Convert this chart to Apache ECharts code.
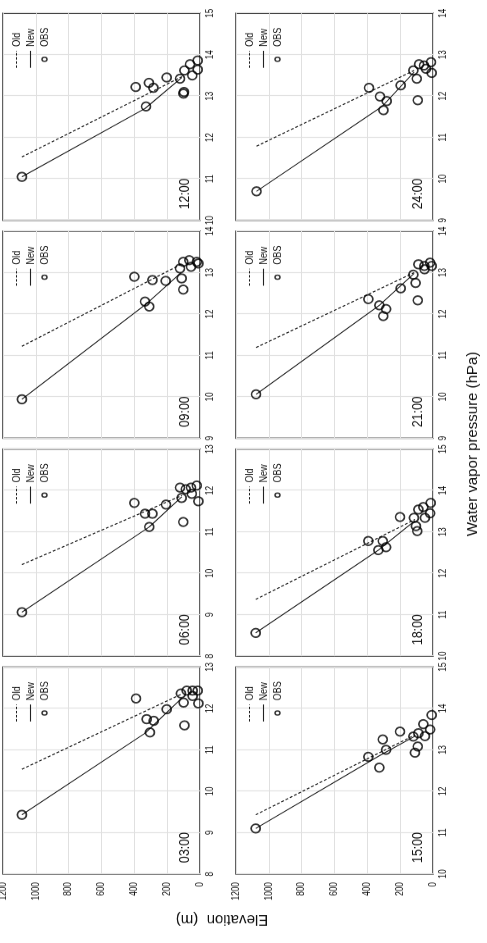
<!DOCTYPE html>
<html>
<head>
<meta charset="utf-8">
<script src="https://cdn.jsdelivr.net/npm/echarts@6/dist/echarts.min.js"></script>
<style>
html,body{margin:0;padding:0;background:#fff;overflow:hidden;width:487px;height:943px;}
#chart{position:absolute;left:0;top:0;height:487px;transform-origin:0 0;background:#fff;}
</style>
</head>
<body>
<div id="chart"></div>
<script>
// ---- data (x = water vapor pressure hPa, y = elevation m) ----
const times = ['03:00','06:00','09:00','12:00','15:00','18:00','21:00','24:00'];
const wvMin = [8, 8, 9, 10, 10, 10, 9, 9];
const wvMax = [13, 13, 14, 15, 15, 15, 14, 14];
const elevMin = 0, elevMax = 1200, elevStep = 200, wvStep = 1;

const obs03 = [[9.43,1085],[12.24,390],[11.74,325],[11.70,282],[11.42,305],[11.98,203],[12.36,116],[12.14,100],[11.59,95],[12.43,81],[12.43,45],[12.30,45],[12.43,14],[12.12,10]];
const new03 = [[9.43,1085],[11.40,335],[12.25,110]];
const old03 = [[10.53,1085],[12.35,110]];

const obs06 = [[9.06,1085],[11.70,400],[11.44,335],[11.44,290],[11.12,309],[11.66,207],[11.24,102],[11.82,112],[12.07,122],[12.03,87],[12.07,55],[12.12,20],[11.92,50],[11.74,10]];
const new06 = [[9.06,1085],[11.12,309],[11.85,110]];
const old06 = [[10.21,1085],[11.88,110]];

const obs09 = [[9.94,1085],[12.90,400],[12.82,290],[12.80,209],[12.30,335],[12.18,309],[13.26,102],[13.30,65],[13.26,20],[13.10,122],[13.14,55],[13.22,10],[12.86,112],[12.59,102]];
const new09 = [[9.94,1085],[12.25,325],[13.00,115]];
const old09 = [[11.22,1085],[13.20,115]];

const obs12 = [[11.05,1085],[13.22,392],[13.32,311],[13.20,284],[12.75,329],[13.45,203],[13.42,122],[13.62,95],[13.77,61],[13.50,47],[13.86,14],[13.64,14],[13.06,101],[13.10,98]];
const new12 = [[11.05,1085],[12.70,335],[13.45,110]];
const old12 = [[11.53,1085],[13.47,110]];

const obs15 = [[11.10,1080],[12.83,394],[12.57,327],[13.25,306],[13.00,286],[13.44,201],[13.32,120],[12.93,110],[13.08,93],[13.40,89],[13.62,59],[13.33,49],[13.49,18],[13.84,8]];
const new15 = [[11.10,1080],[12.85,330],[13.33,110]];
const old15 = [[11.43,1080],[13.36,110]];

const obs18 = [[10.56,1080],[12.78,394],[12.78,306],[12.56,333],[12.63,286],[13.36,201],[13.34,116],[13.14,104],[13.02,96],[13.54,89],[13.60,59],[13.34,49],[13.70,14],[13.45,18]];
const new18 = [[10.56,1080],[12.56,333],[13.27,110]];
const old18 = [[11.37,1080],[13.30,110]];

const obs21 = [[10.06,1078],[12.36,394],[12.21,327],[12.12,286],[11.95,303],[12.62,197],[12.95,120],[12.75,106],[12.33,93],[13.20,89],[13.16,53],[13.08,52],[13.24,18],[13.16,8]];
const new21 = [[10.06,1078],[12.21,327],[12.98,115]];
const old21 = [[11.19,1078],[13.00,115]];

const obs24 = [[9.70,1075],[12.20,390],[11.99,323],[11.88,282],[11.66,302],[12.26,197],[12.62,120],[12.42,99],[11.90,93],[12.77,85],[12.74,55],[12.66,43],[12.82,12],[12.56,8]];
const new24 = [[9.70,1075],[11.75,310],[12.58,115]];
const old24 = [[10.79,1075],[12.62,115]];

const obsAll = [obs03, obs06, obs09, obs12, obs15, obs18, obs21, obs24];
const newAll = [new03, new06, new09, new12, new15, new18, new21, new24];
const oldAll = [old03, old06, old09, old12, old15, old18, old21, old24];

// ---- layout / style ----
// The figure is drawn landscape (943 x 487), horizontally condensed by S, then rotated to portrait.
const S = 0.82;
const FULLW = 943, FULLH = 487;
const CW = FULLW / S;
const FONT = "'Liberation Sans', Arial, sans-serif";
const PW = 207, PH = 197;
const panelX = i => 69 + (i % 4) * 217.9;
const panelY = i => (i < 4 ? 3 : 236);

const el = document.getElementById('chart');
el.style.width = CW + 'px';
el.style.transform = 'translateY(' + FULLW + 'px) rotate(-90deg) scaleX(' + S + ')';

const chart = echarts.init(el, null, {renderer: 'canvas', width: CW, height: FULLH});

const grids = [], xAxes = [], yAxes = [], series = [], legends = [], titles = [];
times.forEach((t, i) => {
  const x = panelX(i) / S, y = panelY(i);
  grids.push({left: x, top: y, width: PW / S, height: PH, show: true, borderColor: '#2e2e2e', borderWidth: 1.6,
    backgroundColor: 'transparent', containLabel: false, outerBoundsMode: 'none'});
  xAxes.push({gridIndex: i, type: 'value', min: wvMin[i], max: wvMax[i], interval: wvStep,
    axisLine: {show: false}, axisTick: {show: false},
    splitLine: {show: true, lineStyle: {color: '#e0e0e0', width: 1.2}},
    axisLabel: {fontSize: 10, fontFamily: FONT, color: '#111', margin: 5, formatter: v => String(v)}});
  yAxes.push({gridIndex: i, type: 'value', min: elevMin, max: elevMax, interval: elevStep,
    axisLine: {show: false}, axisTick: {show: false},
    splitLine: {show: true, lineStyle: {color: '#e0e0e0', width: 1}},
    axisLabel: {show: i % 4 === 0, fontSize: 10, fontFamily: FONT, color: '#111', margin: 10, formatter: v => String(v)}});
  series.push({name: 'Old', type: 'line', xAxisIndex: i, yAxisIndex: i, data: oldAll[i], symbol: 'none', silent: true,
    itemStyle: {color: '#1a1a1a'}, lineStyle: {color: '#1a1a1a', width: 1.2, type: [3, 2]}, z: 2});
  series.push({name: 'New', type: 'line', xAxisIndex: i, yAxisIndex: i, data: newAll[i], symbol: 'none', silent: true,
    itemStyle: {color: '#222'}, lineStyle: {color: '#222', width: 1.1}, z: 2});
  series.push({name: 'OBS', type: 'scatter', xAxisIndex: i, yAxisIndex: i, data: obsAll[i], symbol: 'circle',
    symbolSize: [10.5, 9],
    itemStyle: {color: 'rgba(0,0,0,0)', borderColor: '#000', borderWidth: 1.8}, silent: true, z: 3});
  legends.push({orient: 'vertical', left: (panelX(i) + PW - 55) / S, top: y + 8, itemWidth: 17 / S, itemHeight: 5, itemGap: 3, padding: 0,
    selectedMode: false,
    textStyle: {fontSize: 11, fontFamily: FONT, color: '#111'},
    data: [
      {name: 'Old', itemStyle: {opacity: 0}, lineStyle: {type: [3, 2], color: '#1a1a1a', width: 1.2}},
      {name: 'New', itemStyle: {opacity: 0}, lineStyle: {color: '#222', width: 1.1}},
      {name: 'OBS', icon: 'circle', itemStyle: {color: 'rgba(0,0,0,0)', borderColor: '#000', borderWidth: 1.5}}
    ]});
  titles.push({text: t, left: (panelX(i) + 11) / S, top: y + PH - 23, padding: 0,
    textStyle: {fontSize: 15, fontWeight: 'normal', fontFamily: FONT, color: '#111'}});
});

chart.setOption({
  animation: false,
  backgroundColor: '#fff',
  title: titles,
  legend: legends,
  grid: grids,
  xAxis: xAxes,
  yAxis: yAxes,
  series: series,
  graphic: [
    {type: 'text', x: 24 / S, y: 222, rotation: Math.PI / 2, scaleY: 1 / S,
      style: {text: 'Elevation  (m)', fontSize: 15, fontFamily: FONT, fill: '#111', align: 'center', verticalAlign: 'middle'}},
    {type: 'text', x: 499 / S, y: 473, scaleX: 1 / S,
      style: {text: 'Water vapor pressure (hPa)', fontSize: 15, fontFamily: FONT, fill: '#111', align: 'center', verticalAlign: 'middle'}}
  ]
});
</script>
</body>
</html>
